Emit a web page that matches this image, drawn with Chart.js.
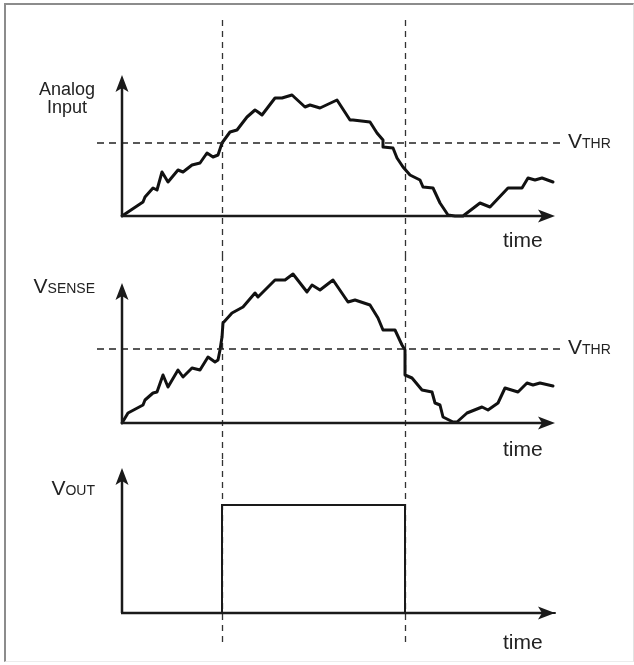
<!DOCTYPE html>
<html>
<head>
<meta charset="utf-8">
<script src="https://cdn.jsdelivr.net/npm/chart.js@4.4.0/dist/chart.umd.min.js"></script>
<style>
  body { margin: 0; background: #fff; }
  #frame { position: absolute; left: 4px; top: 3px; width: 627px; height: 656px;
           border-left: 2px solid #8c8c8c; border-top: 2px solid #8c8c8c;
           border-right: 1px solid #e2e2e2; border-bottom: 1px solid #ececec; }
  canvas { position: absolute; left: 0; }
</style>
</head>
<body>
<div id="frame"></div>
<canvas id="c1" width="634" height="255" style="top:0"></canvas>
<canvas id="c2" width="634" height="205" style="top:255px"></canvas>
<canvas id="c3" width="634" height="205" style="top:460px"></canvas>
<script>
// time axis runs 0..433 for all three traces
const timeMax = 433;
const edges = [100, 283];          // where V_SENSE crosses V_THR

// Analog Input
const time1 = [0, 21, 23, 31, 35, 40, 46, 56, 61, 70, 78, 85, 91, 96, 100, 108, 115, 125, 133, 136,
  140, 153, 160, 170, 183, 188, 198, 215, 228, 231, 248, 255, 261, 261, 271, 275, 281, 288, 298, 301,
  311, 318, 326, 333, 341, 358, 368, 386, 400, 406, 413, 420, 431];
const analogInput = [0, 14, 19, 28, 26, 44, 34, 46, 44, 51, 53, 63, 59, 61, 73, 84, 86, 99, 106, 104,
  101, 118, 118, 121, 109, 111, 108, 116, 96, 96, 94, 83, 76, 69, 68, 58, 49, 41, 36, 29,
  28, 13, 1, 0, 0, 13, 9, 28, 28, 38, 36, 38, 34];

// V_SENSE
const time2 = [0, 6, 21, 23, 31, 35, 41, 46, 56, 61, 70, 78, 86, 93, 96, 98, 100, 101, 110, 121,
  133, 136, 153, 163, 171, 185, 190, 198, 211, 226, 233, 248, 256, 261, 273, 280, 283, 283, 290, 300,
  310, 313, 318, 321, 331, 335, 345, 360, 366, 376, 383, 396, 405, 411, 418, 431];
const vSense = [0, 10, 18, 23, 30, 31, 48, 36, 53, 46, 55, 53, 66, 61, 63, 73, 86, 100, 110, 116,
  130, 126, 143, 143, 149, 131, 138, 133, 143, 121, 123, 118, 105, 93, 93, 78, 73, 48, 45, 33,
  31, 20, 18, 6, 1, 1, 10, 16, 13, 20, 35, 31, 40, 38, 40, 37];

// V_OUT
const time3 = [0, 100, 100, 283, 283, 433];
const vOut = [0, 0, 108, 108, 0, 0];

// threshold lines
const thrTime = [-25, 438];
const vThr = [73, 74];

const yMax = [141, 140, 145];

function pts(xs, ys) {
  return xs.map((x, i) => ({ x: x, y: ys[i] }));
}

// axes with arrow heads, vertical dashed markers, text
function panelPlugin(cfg) {
  return {
    id: 'panel' + cfg.n,
    beforeDatasetsDraw(chart) {
      const ctx = chart.ctx;
      const xs = chart.scales.x;
      ctx.save();
      ctx.strokeStyle = '#333';
      ctx.lineWidth = 1.3;
      ctx.setLineDash([6, 5]);
      edges.forEach(t => {
        const px = Math.round(xs.getPixelForValue(t)) + 0.5;
        ctx.beginPath();
        ctx.moveTo(px, cfg.vTop);
        ctx.lineTo(px, cfg.vBottom);
        ctx.stroke();
      });
      ctx.restore();
    },
    afterDatasetsDraw(chart) {
      const ctx = chart.ctx;
      const a = chart.chartArea;
      ctx.save();
      ctx.strokeStyle = '#1a1a1a';
      ctx.fillStyle = '#1a1a1a';
      ctx.lineWidth = 2.5;
      // y axis
      ctx.beginPath();
      ctx.moveTo(a.left, a.bottom);
      ctx.lineTo(a.left, a.top + 12);
      ctx.stroke();
      ctx.beginPath();
      ctx.moveTo(a.left, a.top);
      ctx.lineTo(a.left - 6.5, a.top + 17);
      ctx.lineTo(a.left, a.top + 13);
      ctx.lineTo(a.left + 6.5, a.top + 17);
      ctx.closePath();
      ctx.fill();
      // x axis
      ctx.beginPath();
      ctx.moveTo(a.left - 1, a.bottom);
      ctx.lineTo(a.right - 12, a.bottom);
      ctx.stroke();
      ctx.beginPath();
      ctx.moveTo(a.right, a.bottom);
      ctx.lineTo(a.right - 17, a.bottom - 6.5);
      ctx.lineTo(a.right - 13, a.bottom);
      ctx.lineTo(a.right - 17, a.bottom + 6.5);
      ctx.closePath();
      ctx.fill();

      // labels
      ctx.fillStyle = '#222';
      ctx.textBaseline = 'alphabetic';
      ctx.font = '21px "Liberation Sans", Arial, sans-serif';
      ctx.textAlign = 'left';
      ctx.fillText('time', 503, a.bottom + cfg.timeDy);

      if (cfg.title) {
        ctx.font = '18px "Liberation Sans", Arial, sans-serif';
        ctx.textAlign = 'center';
        cfg.title.forEach((s, i) => ctx.fillText(s, 67, cfg.titleY + i * 18));
      }
      if (cfg.sub) {
        drawV(ctx, cfg.sub, 95, cfg.titleY, 'right');
      }
      if (cfg.thr !== undefined) {
        const py = chart.scales.y.getPixelForValue(vThr[cfg.thr]);
        drawV(ctx, 'THR', 568, py + 4.5, 'left');
      }
      ctx.restore();
    }
  };
}

// "V" followed by a small-caps subscript style name
function drawV(ctx, sub, x, y, align) {
  ctx.textAlign = 'left';
  ctx.font = '21px "Liberation Sans", Arial, sans-serif';
  const wv = ctx.measureText('V').width;
  ctx.font = '14px "Liberation Sans", Arial, sans-serif';
  const ws = ctx.measureText(sub).width;
  const x0 = align === 'right' ? x - wv - ws : x;
  ctx.font = '21px "Liberation Sans", Arial, sans-serif';
  ctx.fillText('V', x0, y);
  ctx.font = '14px "Liberation Sans", Arial, sans-serif';
  ctx.fillText(sub, x0 + wv, y);
}

function makeChart(id, n, datasets, pad, plugCfg) {
  plugCfg.n = n;
  return new Chart(document.getElementById(id), {
    type: 'line',
    data: { datasets: datasets },
    options: {
      responsive: false,
      animation: false,
      events: [],
      layout: { autoPadding: false, padding: { left: 122, right: 79, top: pad[0], bottom: pad[1] } },
      plugins: { legend: { display: false }, tooltip: { enabled: false } },
      elements: { point: { radius: 0 }, line: { tension: 0, borderJoinStyle: 'round', borderCapStyle: 'round' } },
      scales: {
        x: { type: 'linear', min: 0, max: timeMax, display: false },
        y: { min: 0, max: yMax[n - 1], display: false }
      }
    },
    plugins: [panelPlugin(plugCfg)]
  });
}

function thrSet(i) {
  return { data: pts(thrTime, [vThr[i], vThr[i]]), borderColor: '#222', borderWidth: 1.4,
           borderDash: [7, 5], borderCapStyle: 'butt', clip: false };
}

makeChart('c1', 1, [
  thrSet(0),
  { data: pts(time1, analogInput), borderColor: '#111', borderWidth: 3, clip: false }
], [75, 39], { vTop: 20, vBottom: 255, timeDy: 31, title: ['Analog', 'Input'], titleY: 95, thr: 0 });

makeChart('c2', 2, [
  thrSet(1),
  { data: pts(time2, vSense), borderColor: '#111', borderWidth: 3, clip: false }
], [28, 37], { vTop: 0, vBottom: 205, timeDy: 33, sub: 'SENSE', titleY: 38, thr: 1 });

makeChart('c3', 3, [
  { data: pts(time3, vOut), borderColor: '#1a1a1a', borderWidth: 2, borderJoinStyle: 'miter', clip: false }
], [8, 52], { vTop: 0, vBottom: 185, timeDy: 36, sub: 'OUT', titleY: 35 });
</script>
</body>
</html>
